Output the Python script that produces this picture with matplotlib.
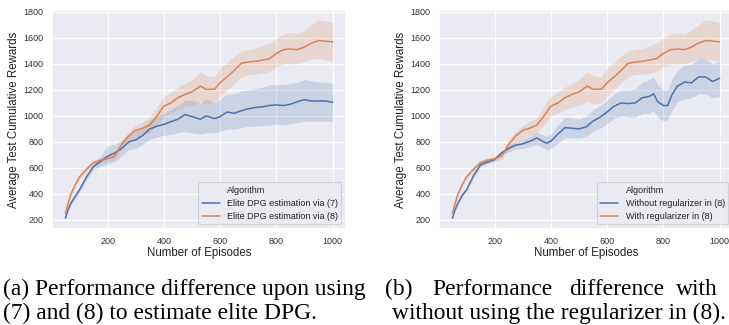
import numpy as np
import matplotlib
matplotlib.use("Agg")
import matplotlib.pyplot as plt
import seaborn as sns

# ---- data ----
x_a = [50, 60, 70, 85, 100, 125, 150, 175, 200, 225, 250, 275, 300, 325, 350, 375, 400,
       425, 450, 475, 500, 530, 550, 580, 600, 625, 650, 675, 700, 725, 750, 775, 800,
       825, 850, 875, 900, 925, 950, 975, 1000]

# orange: elite DPG via (8) / with regularizer (same run in both panels)
via8_mean = [250, 330, 400, 470, 530, 590, 640, 660, 670, 690, 780, 845, 890, 905, 930, 997, 1075,
             1100, 1140, 1165, 1185, 1230, 1205, 1205, 1255, 1300, 1350, 1405, 1415, 1420, 1430, 1440, 1480,
             1510, 1515, 1510, 1530, 1560, 1580, 1575, 1570]
via8_lo = [235, 310, 380, 450, 510, 570, 620, 640, 650, 665, 735, 800, 830, 850, 870, 930, 1000,
           1020, 1050, 1070, 1080, 1110, 1090, 1100, 1150, 1200, 1250, 1300, 1320, 1320, 1330, 1340, 1380,
           1400, 1400, 1400, 1420, 1440, 1440, 1430, 1420]
via8_hi = [265, 350, 420, 490, 550, 610, 660, 680, 690, 715, 820, 880, 930, 955, 990, 1070, 1150,
           1180, 1220, 1250, 1280, 1340, 1310, 1300, 1370, 1410, 1460, 1500, 1510, 1520, 1540, 1560, 1600,
           1630, 1640, 1630, 1660, 1700, 1740, 1730, 1720]

# blue, panel (a): elite DPG via (7)
via7_mean = [215, 280, 330, 380, 430, 530, 610, 650, 690, 715, 750, 800, 815, 850, 900, 920, 935,
             955, 975, 1010, 995, 975, 1000, 980, 995, 1030, 1020, 1040, 1055, 1065, 1070, 1080, 1085,
             1080, 1090, 1110, 1125, 1115, 1115, 1115, 1105]
via7_lo = [205, 265, 315, 360, 410, 505, 585, 615, 630, 650, 690, 740, 750, 780, 820, 840, 850,
           860, 870, 880, 870, 860, 870, 870, 880, 900, 900, 910, 920, 920, 925, 930, 935,
           930, 940, 950, 960, 960, 960, 960, 960]
via7_hi = [225, 295, 345, 400, 450, 555, 635, 690, 770, 780, 810, 860, 880, 920, 970, 1000, 1020,
           1050, 1080, 1120, 1120, 1100, 1130, 1100, 1130, 1170, 1170, 1190, 1200, 1210, 1220, 1240, 1240,
           1240, 1250, 1260, 1280, 1270, 1260, 1260, 1250]

# blue, panel (b): without regularizer
x_b = [50, 60, 70, 85, 100, 125, 150, 175, 200, 225, 250, 275, 300, 325, 350, 375, 385, 400,
       425, 450, 475, 500, 525, 550, 575, 600, 625, 650, 675, 700, 725, 750, 765, 780, 800,
       815, 830, 850, 875, 900, 925, 950, 975, 1000]
noreg_mean = [213, 280, 330, 390, 430, 540, 625, 645, 665, 715, 750, 775, 785, 805, 830, 800, 790, 805,
              860, 910, 905, 900, 915, 960, 990, 1030, 1075, 1100, 1095, 1100, 1140, 1150, 1170, 1110, 1080,
              1080, 1160, 1230, 1260, 1255, 1300, 1300, 1265, 1290]
noreg_lo = [205, 270, 318, 375, 415, 520, 605, 630, 650, 700, 725, 745, 750, 765, 780, 750, 740, 750,
            790, 830, 830, 830, 840, 880, 905, 940, 980, 1000, 990, 990, 1020, 1020, 1040, 990, 960,
            970, 1040, 1110, 1130, 1140, 1170, 1170, 1140, 1150]
noreg_hi = [222, 290, 342, 405, 445, 560, 645, 662, 682, 732, 775, 805, 820, 845, 875, 850, 845, 860,
            930, 990, 985, 975, 995, 1050, 1080, 1120, 1170, 1200, 1200, 1210, 1260, 1280, 1300, 1240, 1200,
            1200, 1280, 1350, 1390, 1400, 1440, 1440, 1400, 1420]

labels_a = ["Elite DPG estimation via (7)", "Elite DPG estimation via (8)"]
labels_b = ["Without regularizer in (8)", "With regularizer in (8)"]
xticks = [200, 400, 600, 800, 1000]
yticks = [200, 400, 600, 800, 1000, 1200, 1400, 1600, 1800]

sns.set_theme(style="darkgrid")
plt.rcParams['font.family'] = ['Liberation Sans', 'DejaVu Sans']

blue = "#4c72b0"
orange = "#dd8452"

W, H = 729, 325
fig = plt.figure(figsize=(W / 100, H / 100), dpi=100)


def px_axes(left, top, right, bottom):
    return fig.add_axes([left / W, 1 - bottom / H, (right - left) / W, (bottom - top) / H])


def panel(ax, xb, mb, lob, hib, lab):
    ax.fill_between(xb, lob, hib, color=blue, alpha=0.2, lw=0)
    ax.fill_between(x_a, via8_lo, via8_hi, color=orange, alpha=0.2, lw=0)
    ax.plot(xb, mb, color=blue, lw=1.1, label=lab[0])
    ax.plot(x_a, via8_mean, color=orange, lw=1.1, label=lab[1])
    ax.set_xlim(2.5, 1047.5)
    ax.set_ylim(130, 1815)
    ax.set_xticks(xticks)
    ax.set_yticks(yticks)
    ax.tick_params(axis='both', labelsize=6.5, length=0, colors='#333333')
    ax.tick_params(axis='x', pad=5.5)
    ax.tick_params(axis='y', pad=6)
    ax.grid(color='white', lw=0.9)
    ax.set_xlabel("Number of Episodes", fontsize=8.3, color='#222222')
    ax.set_ylabel("Average Test Cumulative Rewards", fontsize=8.3, color='#222222')
    ax.xaxis.set_label_coords(0.5, -0.08)
    ax.yaxis.set_label_coords(-0.108, 0.5)
    # legend with the hue name as an entry without handle (old seaborn style)
    h, l = ax.get_legend_handles_labels()
    title = plt.Line2D([], [], color='none')
    leg = ax.legend([title] + h, ["Algorithm"] + l, loc='lower right', fontsize=6.5,
                    frameon=True, facecolor='#eaeaf2', edgecolor='#cccccc',
                    borderaxespad=0.5, labelspacing=0.45, handlelength=2.0)
    leg.get_frame().set_linewidth(0.8)
    for t in leg.get_texts():
        t.set_color('#222222')


ax1 = px_axes(52, 10, 346, 229)
panel(ax1, x_a, via7_mean, via7_lo, via7_hi, labels_a)
ax2 = px_axes(439, 10, 733, 229)
panel(ax2, x_b, noreg_mean, noreg_lo, noreg_hi, labels_b)

# captions
cap = dict(family='Liberation Serif', fontsize=16.9, color='black', va='baseline')
fig.text(3 / W, 1 - 295 / H, "(a) Performance difference upon using", **cap)
fig.text(3 / W, 1 - 319 / H, "(7) and (8) to estimate elite DPG.", **cap)
for word, xp in [("(b)", 385), ("Performance", 432), ("difference", 569), ("with", 676)]:
    fig.text(xp / W, 1 - 295 / H, word, **cap)
fig.text(392 / W, 1 - 319 / H, "without using the regularizer in (8).", **cap)

fig.savefig("out.png", dpi=100)
